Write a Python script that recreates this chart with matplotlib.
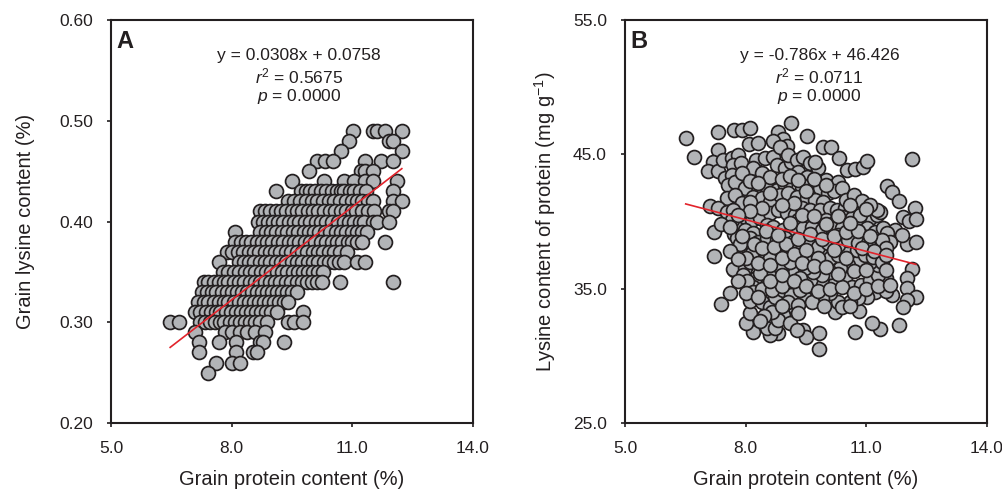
import numpy as np
import matplotlib
matplotlib.use("Agg")
import matplotlib.pyplot as plt

plt.rcParams['font.family'] = ['Liberation Sans', 'DejaVu Sans']
plt.rcParams['mathtext.fontset'] = 'custom'
plt.rcParams['mathtext.rm'] = 'Liberation Sans'
plt.rcParams['mathtext.it'] = 'Liberation Sans:italic'
plt.rcParams['mathtext.bf'] = 'Liberation Sans:bold'

# ---- panel A: grain lysine (%) by level, protein values read per level ----
lys_rows = {
    0.49: [11.01, 11.52, 11.61, 11.82, 12.23],
    0.48: [10.91, 11.90, 12.02],
    0.47: [10.71, 12.23],
    0.46: [10.11, 10.31, 10.51, 11.32, 11.72, 12.02],
    0.45: [9.91, 11.21, 11.32, 11.51],
    0.44: [9.51, 10.30, 10.80, 11.03, 11.32, 11.52, 12.11],
    0.43: [9.10, 9.72, 9.85, 9.95, 10.08, 10.22, 10.35, 10.50, 10.62, 10.72,
           10.80, 10.93, 11.05, 11.20, 11.35, 12.02],
    0.42: [9.41, 9.55, 9.70, 9.85, 10.00, 10.12, 10.28, 10.42, 10.55, 10.70,
           10.85, 11.00, 11.12, 11.25, 11.38, 11.52, 12.02, 12.23],
    0.41: [8.71, 8.83, 8.95, 9.10, 9.22, 9.35, 9.50, 9.62, 9.75, 9.90, 10.02,
           10.15, 10.30, 10.45, 10.58, 10.72, 10.85, 10.98, 11.10, 11.25,
           11.40, 11.55, 11.90, 12.02],
    0.40: [8.66, 8.78, 8.90, 9.02, 9.15, 9.28, 9.42, 9.55, 9.68, 9.82, 9.95,
           10.10, 10.22, 10.35, 10.50, 10.65, 10.78, 10.92, 11.05, 11.18,
           11.28, 11.52, 11.61, 11.90],
    0.39: [8.09, 8.71, 8.85, 8.98, 9.10, 9.25, 9.38, 9.52, 9.65, 9.80, 9.92,
           10.05, 10.18, 10.32, 10.45, 10.60, 10.72, 10.85, 11.00, 11.12,
           11.25, 11.36],
    0.38: [8.09, 8.22, 8.35, 8.48, 8.62, 8.75, 8.88, 9.00, 9.15, 9.28, 9.42,
           9.55, 9.68, 9.82, 9.95, 10.08, 10.22, 10.35, 10.50, 10.62, 10.75,
           10.88, 11.00, 11.12, 11.24, 11.82],
    0.37: [7.89, 8.02, 8.15, 8.28, 8.42, 8.55, 8.68, 8.82, 8.95, 9.08, 9.20,
           9.35, 9.48, 9.62, 9.75, 9.88, 10.02, 10.15, 10.28, 10.42, 10.55,
           10.70, 10.86],
    0.36: [7.69, 8.17, 8.30, 8.42, 8.55, 8.70, 8.82, 8.95, 9.10, 9.22, 9.35,
           9.50, 9.62, 9.75, 9.90, 10.02, 10.15, 10.30, 10.42, 10.55, 10.68,
           10.78, 11.11, 11.32],
    0.35: [7.79, 7.92, 8.05, 8.18, 8.32, 8.45, 8.58, 8.72, 8.85, 8.98, 9.12,
           9.25, 9.38, 9.52, 9.65, 9.78, 9.90, 10.02, 10.15, 10.28],
    0.34: [7.30, 7.42, 7.55, 7.68, 7.80, 7.92, 8.05, 8.18, 8.30, 8.45, 8.58,
           8.70, 8.82, 8.95, 9.08, 9.20, 9.35, 9.48, 9.62, 9.75, 9.88, 10.00,
           10.12, 10.24, 10.70, 12.02],
    0.33: [7.26, 7.38, 7.50, 7.62, 7.75, 7.88, 8.00, 8.12, 8.25, 8.38, 8.50,
           8.62, 8.75, 8.88, 9.00, 9.12, 9.25, 9.38, 9.50, 9.62],
    0.32: [7.17, 7.30, 7.42, 7.55, 7.68, 7.80, 7.92, 8.05, 8.18, 8.30, 8.42,
           8.55, 8.68, 8.80, 8.92, 9.05, 9.18, 9.30, 9.41],
    0.31: [7.09, 7.22, 7.35, 7.48, 7.60, 7.72, 7.85, 7.98, 8.10, 8.22, 8.35,
           8.48, 8.60, 8.72, 8.85, 8.98, 9.12, 9.78],
    0.30: [6.47, 6.70, 7.21, 7.33, 7.45, 7.58, 7.70, 7.82, 7.95, 8.08, 8.20,
           8.32, 8.45, 8.58, 8.70, 8.87, 9.41, 9.54, 9.78],
    0.29: [7.09, 7.84, 8.00, 8.21, 8.37, 8.58, 8.83],
    0.28: [7.19, 7.69, 8.11, 8.71, 8.79, 9.30],
    0.27: [7.19, 8.11, 8.52, 8.62],
    0.26: [7.60, 8.00, 8.21],
    0.25: [7.40],
}
protein_a = []
lysine_a = []
for lv, xs in lys_rows.items():
    for xv in xs:
        protein_a.append(xv)
        lysine_a.append(lv)

# ---- panel B: lysine content of protein (mg g-1) ----
protein_b = [
    6.51, 6.72, 7.31, 7.70, 7.90, 8.11, 9.12, 8.81, 8.94, 9.52, 8.09, 8.30,
    8.69, 9.02, 9.92, 10.12, 10.31, 10.51, 10.72, 10.91, 11.01, 12.13, 11.51,
    11.63, 11.82, 12.21, 11.92, 12.05, 12.23, 12.02, 12.23, 12.13, 12.02,
    12.01, 12.23, 12.02, 11.92, 11.82, 11.33, 11.14, 10.72, 10.81, 10.21,
    9.82, 9.82, 9.42, 9.50, 8.81, 8.61, 8.52, 8.72, 8.19, 8.01, 8.11, 8.11,
    8.40, 7.40, 7.61, 7.21, 7.21, 7.11, 7.70, 7.51, 7.70,
    # upper left
    7.32, 7.20, 7.07, 7.32, 7.44, 7.65, 7.82, 7.69, 7.88, 7.49, 7.65, 7.57,
    7.74, 7.98, 8.31, 8.52, 8.77, 8.97, 8.27, 8.48, 8.69, 8.19, 8.40, 8.61,
    8.77, 8.97, 9.14, 8.85, 9.06, 8.19, 8.40, 8.61, 8.85, 9.06, 7.53, 7.74,
    7.91, 8.11, 7.32, 7.53, 7.69, 7.82, 7.99, 8.15, 8.36, 8.61, 8.81, 9.02,
    7.65, 7.99, 8.19, 8.52, 8.69, 8.94, 9.14, 9.23,
    # upper right
    9.27, 9.43, 9.60, 9.81, 9.72, 9.31, 9.52, 9.81, 10.01, 10.22, 10.30,
    9.39, 9.60, 9.85, 10.06, 9.27, 9.52, 9.72, 9.93, 9.39, 9.60, 9.85, 10.10,
    10.26, 10.47, 10.72, 10.84, 9.31, 9.56, 9.77, 10.01, 10.22, 10.43, 10.64,
    10.88, 11.09, 11.26, 11.34, 9.43, 9.64, 9.89, 10.14, 10.39, 10.59, 10.84,
    11.01, 11.21, 11.42, 11.71, 11.88, 10.30, 10.64, 10.88, 10.20, 11.51,
    10.85, 11.26, 11.60,
    # lower left
    7.69, 7.98, 8.60, 8.11, 7.90, 8.11, 8.31, 8.52, 8.77, 8.98, 9.18, 8.36,
    8.60, 8.85, 9.06, 8.27, 8.52, 8.81, 9.02, 9.23, 8.19, 8.73, 8.94, 9.14,
    9.23, 8.94, 8.81, 9.10, 9.27, 7.78, 7.85, 8.15, 7.94, 8.03, 8.19, 8.45,
    8.60, 8.35, 8.85, 9.10, 8.40, 8.65, 8.90, 9.05, 8.65, 8.45, 8.35,
    # lower right
    11.50, 11.63, 11.22, 11.01, 10.80, 10.59, 10.30, 10.10, 9.89, 9.68, 9.48,
    9.31, 9.64, 9.93, 10.22, 10.47, 10.64, 10.88, 11.09, 11.30, 11.30, 11.09,
    10.80, 10.55, 10.35, 10.10, 9.89, 9.68, 9.48, 9.35, 9.39, 9.60, 9.85,
    10.10, 10.30, 10.55, 10.76, 10.97, 11.17, 11.38, 9.27, 9.56, 9.81, 10.06,
    10.30, 10.55, 10.80, 11.05, 11.38, 11.50, 9.35, 9.65, 9.95, 10.40, 10.60,
    11.50,
    # dense core
    7.90, 8.10, 8.30, 8.60, 8.90, 9.10, 9.30, 9.50, 9.70, 10.00, 10.40, 10.50,
    10.70, 10.90, 11.10, 9.20, 8.90, 8.40, 8.10, 7.80, 10.60, 11.00,
    7.40, 7.60, 7.90, 8.20, 8.40, 8.70, 9.00, 9.30, 9.60, 9.90, 10.20, 10.50,
    10.80, 11.10, 8.50, 8.80, 9.10, 9.40, 9.70, 10.00, 10.30, 10.60, 8.00,
    8.30, 8.60, 8.90, 9.20, 9.50, 9.80, 10.20, 10.50, 10.90, 11.20, 11.50,
    7.60, 7.80,
    7.80, 8.00, 8.30, 8.60, 8.90, 9.20, 9.50, 9.80, 10.10, 10.40, 10.70,
    11.00, 11.30, 11.60, 9.40, 9.70, 10.00, 10.30, 10.70, 11.00, 11.50,
    8.90, 9.30,
]
lysine_b = [
    46.25, 44.83, 46.64, 46.82, 46.82, 46.94, 47.36, 46.64, 46.12, 46.37,
    45.75, 45.82, 46.02, 45.63, 45.53, 45.53, 44.76, 43.84, 43.91, 44.09,
    44.53, 44.63, 42.65, 42.23, 41.56, 41.04, 40.32, 40.07, 40.22, 38.33,
    38.50, 36.44, 35.82, 35.03, 34.41, 34.16, 33.62, 32.27, 31.98, 32.42,
    31.80, 33.34, 33.29, 30.51, 31.68, 31.93, 31.43, 31.68, 31.56, 32.05,
    32.10, 31.80, 32.42, 33.22, 34.09, 34.04, 33.84, 34.71, 37.44, 39.25,
    41.16, 36.39, 40.07, 39.05,
    # upper left
    45.33, 44.46, 43.79, 43.79, 44.58, 44.71, 44.96, 44.21, 44.33, 43.22,
    43.47, 42.72, 42.97, 42.47, 42.22, 42.60, 42.35, 42.72, 44.58, 44.71,
    44.83, 43.97, 43.60, 43.35, 44.21, 43.97, 44.46, 45.58, 44.96, 41.85,
    41.73, 41.48, 41.97, 42.10, 41.73, 41.97, 41.35, 41.48, 40.98, 40.73,
    40.85, 39.86, 40.36, 40.11, 40.24, 40.61, 40.85, 40.61, 40.11, 39.37,
    39.12, 39.74, 39.62, 39.37, 39.25, 40.48,
    # upper right
    44.59, 44.83, 44.34, 43.97, 44.46, 43.72, 43.35, 42.97, 43.10, 42.73,
    42.97, 42.60, 42.73, 42.48, 42.11, 41.86, 41.73, 41.61, 41.48, 40.99,
    40.86, 40.86, 40.99, 40.86, 40.99, 40.74, 40.86, 40.12, 40.24, 39.99,
    40.12, 39.99, 40.37, 40.24, 40.12, 40.24, 40.49, 40.74, 39.50, 39.62,
    39.37, 39.50, 39.50, 39.62, 39.75, 39.50, 39.25, 39.50, 39.37, 39.00,
    39.00, 38.88, 39.00, 42.30, 39.12, 40.49, 40.86, 38.45,
    # lower left
    36.44, 36.52, 33.66, 37.01, 38.00, 38.75, 38.50, 38.75, 38.63, 38.75,
    38.50, 37.63, 37.26, 37.88, 37.76, 35.77, 35.28, 35.65, 36.02, 36.27,
    35.15, 34.41, 34.90, 34.53, 33.54, 33.04, 32.67, 32.42, 31.93, 38.75,
    38.30, 37.64, 36.00, 35.60, 34.78, 36.60, 36.10, 36.20, 36.60, 37.00,
    35.00, 34.90, 35.20, 34.00, 33.30, 33.00, 32.60,
    # lower right
    35.77, 34.53, 34.78, 34.41, 34.28, 34.04, 34.04, 34.66, 34.28, 34.53,
    34.28, 33.79, 35.52, 35.28, 35.40, 35.77, 35.15, 35.28, 35.65, 36.02,
    36.77, 37.01, 37.01, 36.77, 36.52, 36.27, 36.02, 36.27, 36.52, 35.77,
    37.14, 37.51, 37.76, 37.26, 37.51, 37.76, 37.88, 37.51, 37.38, 37.01,
    38.00, 38.50, 38.13, 38.38, 38.25, 38.63, 38.38, 38.38, 38.63, 38.00,
    34.90, 34.00, 33.70, 33.60, 33.70, 34.80,
    # dense core
    43.60, 43.00, 42.90, 42.10, 43.20, 43.40, 43.10, 42.30, 43.20, 42.70,
    42.50, 41.60, 42.00, 41.50, 41.20, 41.40, 41.20, 41.00, 40.80, 40.50,
    41.20, 40.90,
    39.80, 39.60, 38.90, 38.30, 38.00, 38.10, 38.30, 38.70, 39.10, 38.70,
    38.90, 39.20, 39.30, 38.90, 39.30, 39.00, 39.90, 40.50, 40.40, 39.80,
    40.40, 39.90, 37.30, 36.90, 36.80, 37.30, 37.60, 37.90, 37.30, 37.90,
    37.30, 38.00, 37.80, 37.50, 37.80, 37.20,
    35.60, 34.70, 34.40, 35.60, 36.00, 35.60, 35.20, 34.80, 35.00, 35.10,
    34.70, 35.00, 35.20, 35.30, 36.90, 36.70, 36.60, 36.10, 36.30, 36.40,
    36.40, 33.70, 33.20,
]

# fitted lines as printed on the chart
fit_a = (0.0308, 0.0758, 0.5675, 0.0000)
fit_b = (-0.786, 46.426, 0.0711, 0.0000)

face = '#b2b4b7'
edge = '#231f20'
red = '#e2232b'

fig = plt.figure(figsize=(10.03, 4.92), dpi=100)
axA = fig.add_axes([0.1107, 0.1402, 0.3609, 0.8191])
axB = fig.add_axes([0.6231, 0.1402, 0.3609, 0.8191])


def style(ax):
    for s in ax.spines.values():
        s.set_linewidth(1.5)
        s.set_color('#231f20')
    ax.tick_params(axis='both', direction='out', length=3, width=1.2,
                   labelsize=12.5, colors='#231f20', labelcolor='#231f20')
    ax.tick_params(axis='x', pad=10)
    ax.tick_params(axis='y', pad=10)
    ax.tick_params(top=False, right=False)


# panel A
axA.scatter(protein_a, lysine_a, s=100, c=face, edgecolors=edge, linewidths=1.25, zorder=2)
xa = np.array([min(protein_a), max(protein_a)])
axA.plot(xa, fit_a[0] * xa + fit_a[1], color=red, lw=1.2, zorder=3)
axA.set_xlim(5, 14)
axA.set_ylim(0.2, 0.6)
axA.set_xticks([5, 8, 11, 14])
axA.set_xticklabels(['5.0', '8.0', '11.0', '14.0'])
axA.set_yticks([0.2, 0.3, 0.4, 0.5, 0.6])
axA.set_yticklabels(['0.20', '0.30', '0.40', '0.50', '0.60'])
style(axA)
axA.set_xlabel('Grain protein content (%)', fontsize=14.5, labelpad=10, color='#231f20')
axA.set_ylabel('Grain lysine content (%)', fontsize=14.5, labelpad=17, color='#231f20')
axA.text(0.016, 0.975, 'A', transform=axA.transAxes, ha='left', va='top',
         fontsize=17, fontweight='bold', color='#231f20')
axA.text(0.52, 0.911, 'y = %.4fx + %.4f' % (fit_a[0], fit_a[1]), transform=axA.transAxes,
         ha='center', va='center', fontsize=12.5, color='#231f20')
axA.text(0.52, 0.859, r'$r^{2}$ = %.4f' % fit_a[2], transform=axA.transAxes,
         ha='center', va='center', fontsize=12.5, color='#231f20')
axA.text(0.52, 0.809, r'$p$ = %.4f' % fit_a[3], transform=axA.transAxes,
         ha='center', va='center', fontsize=12.5, color='#231f20')

# panel B
axB.scatter(protein_b, lysine_b, s=100, c=face, edgecolors=edge, linewidths=1.25, zorder=2)
xb = np.array([min(protein_b), max(protein_b)])
axB.plot(xb, fit_b[0] * xb + fit_b[1], color=red, lw=1.2, zorder=3)
axB.set_xlim(5, 14)
axB.set_ylim(25, 55)
axB.set_xticks([5, 8, 11, 14])
axB.set_xticklabels(['5.0', '8.0', '11.0', '14.0'])
axB.set_yticks([25, 35, 45, 55])
axB.set_yticklabels(['25.0', '35.0', '45.0', '55.0'])
style(axB)
axB.set_xlabel('Grain protein content (%)', fontsize=14.5, labelpad=10, color='#231f20')
axB.set_ylabel(r'Lysine content of protein (mg g$^{-1}$)', fontsize=14.5, labelpad=11,
               color='#231f20')
axB.text(0.016, 0.975, 'B', transform=axB.transAxes, ha='left', va='top',
         fontsize=17, fontweight='bold', color='#231f20')
axB.text(0.537, 0.911, 'y = %.3fx + %.3f' % (fit_b[0], fit_b[1]), transform=axB.transAxes,
         ha='center', va='center', fontsize=12.5, color='#231f20')
axB.text(0.537, 0.859, r'$r^{2}$ = %.4f' % fit_b[2], transform=axB.transAxes,
         ha='center', va='center', fontsize=12.5, color='#231f20')
axB.text(0.537, 0.809, r'$p$ = %.4f' % fit_b[3], transform=axB.transAxes,
         ha='center', va='center', fontsize=12.5, color='#231f20')

fig.savefig('out.png', dpi=100)
